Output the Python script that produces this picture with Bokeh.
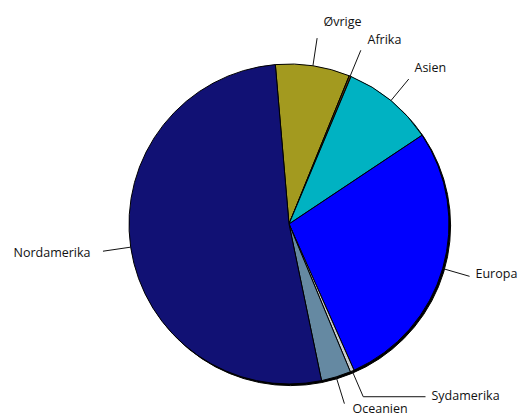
import math
from bokeh.plotting import figure
from bokeh.models import Range1d, ColumnDataSource
from bokeh.core.properties import value
from bokeh.embed import file_html
from bokeh.resources import INLINE

# ---- data (clockwise from the first slice) ----
categories = ["Øvrige", "Afrika", "Asien", "Europa", "Sydamerika", "Oceanien", "Nordamerika"]
shares = [7.5, 0.2, 9.3, 27.7, 0.4, 3.0, 51.9]
colors = ["#a39a1f", "#5a3a10", "#00b2c2", "#0000ff", "#c8ccd0", "#6589a2", "#111174"]

# ---- layout ----
W, H = 520, 418
CX, CY, R = 288.5, 223.5, 160.0      # pixel coordinates of pie
START_BEARING = 355.1                # degrees clockwise from 12 o'clock
LEADER = 28.0
# label anchor (pixel x, pixel y, align), optional horizontal elbow end x
label_pos = {
    "Øvrige": (323, 21, "left", None),
    "Afrika": (367, 39, "left", None),
    "Asien": (414, 67, "left", None),
    "Europa": (475, 273, "left", None),
    "Sydamerika": (431, 395, "left", 425),
    "Oceanien": (352, 408, "left", None),
    "Nordamerika": (90, 252, "right", None),
}

def dy(py):
    return H - py

p = figure(width=W, height=H, output_backend="svg", toolbar_location=None,
           x_range=Range1d(0, W), y_range=Range1d(0, H),
           x_axis_location=None, y_axis_location=None, min_border=0)
p.grid.visible = False
p.outline_line_color = None
p.background_fill_color = "white"
p.border_fill_color = "white"

total = sum(shares)
starts, ends, mids = [], [], []
b = START_BEARING
for s in shares:
    e = b + 360.0 * s / total
    starts.append(math.radians(90 - b))
    ends.append(math.radians(90 - e))
    mids.append((b + e) / 2)
    b = e

# shadow
p.wedge(x=[CX + 1.6], y=[dy(CY) - 1.6], radius=R, start_angle=[0], end_angle=[2 * math.pi],
        fill_color="black", line_color="black", line_width=1)

src = ColumnDataSource(dict(x=[CX] * len(shares), y=[dy(CY)] * len(shares),
                            start=starts, end=ends, color=colors, name=categories))
p.wedge(x="x", y="y", radius=R, start_angle="start", end_angle="end", direction="clock",
        fill_color="color", line_color="black", line_width=1, source=src)

# leader lines and labels
xs, ys = [], []
for cat, m in zip(categories, mids):
    a = math.radians(m)
    x0, y0 = CX + R * math.sin(a), CY - R * math.cos(a)
    x1, y1 = CX + (R + LEADER) * math.sin(a), CY - (R + LEADER) * math.cos(a)
    lx, ly, al, elbow = label_pos[cat]
    lxs, lys = [x0, x1], [dy(y0), dy(y1)]
    if elbow is not None:
        lxs.append(elbow)
        lys.append(dy(y1))
    xs.append(lxs)
    ys.append(lys)

p.multi_line(xs=xs, ys=ys, line_color="#111111", line_width=1)

for cat in categories:
    lx, ly, al, elbow = label_pos[cat]
    p.text(x=[lx], y=[dy(ly)], text=[cat], text_align=al, text_baseline="middle",
           text_font=value("Open Sans"), text_font_size="12.5px", text_color="#111111")

open("out.html", "w").write(file_html(p, INLINE))
